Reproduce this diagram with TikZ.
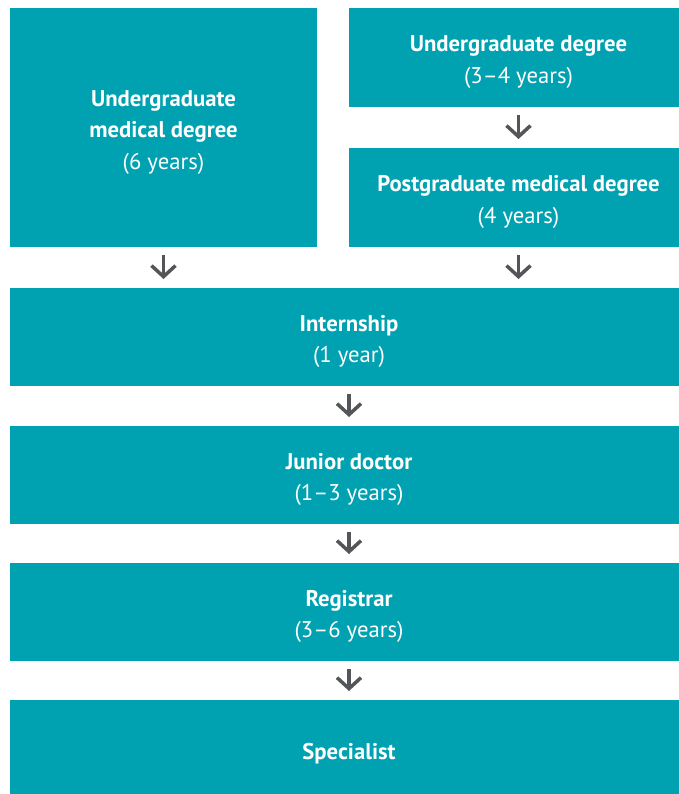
\documentclass[tikz,border=0pt]{standalone}
\usepackage{fontspec}
\setmainfont{PT Sans}
\usetikzlibrary{positioning,arrows.meta}
\definecolor{stageteal}{RGB}{0,161,176}
\definecolor{arrowgrey}{RGB}{84,85,89}
\newcommand{\topstrut}{\rule{0pt}{25pt}}
\tikzstyle{sbox}=[rectangle, fill=stageteal, text=white, inner sep=0pt,
                  outer sep=0pt, minimum height=98pt, align=center,
                  font=\fontsize{22.7}{31.5}\selectfont]
\tikzstyle{halfbox}=[sbox, minimum width=339pt, minimum height=99pt]
\tikzstyle{fullbox}=[sbox, minimum width=678pt]
\tikzstyle{parrow}=[-{Straight Barb[length=11pt,width=24pt]}, line width=3.5pt,
                    draw=arrowgrey, shorten <=8pt, shorten >=9pt]

\begin{document}
\begin{tikzpicture}[x=1pt,y=1pt]
\useasboundingbox (0,0) rectangle (679,-794);
\clip (0,0) rectangle (679,-794);

% two routes into medicine
\node (UGMD) [sbox, minimum width=307pt, minimum height=239pt,
 anchor=north west] at (10,-8) {\topstrut\textbf{Undergraduate}\\\textbf{medical degree}\\(6 years)};
\node (UGD) [halfbox, anchor=north west] at (349,-8) {\topstrut\textbf{Undergraduate degree}\\(3--4 years)};
\node (PGMD) [halfbox, below=41pt of UGD] {\topstrut\textbf{Postgraduate medical degree}\\(4 years)};
 \draw[parrow] (UGD) -- (PGMD);

% common training path
\node (INTRN) [fullbox, anchor=north west] at (10,-288) {\topstrut\textbf{Internship}\\(1 year)};
 \draw[parrow] (UGMD.south) -- (UGMD.south |- INTRN.north);
 \draw[parrow] (PGMD.south) -- (PGMD.south |- INTRN.north);
\node (JNRDR) [fullbox, below=40pt of INTRN] {\topstrut\textbf{Junior doctor}\\(1--3 years)};
 \draw[parrow] (INTRN) -- (JNRDR);
\node (RGSTR) [fullbox, below=39pt of JNRDR] {\topstrut\textbf{Registrar}\\(3--6 years)};
 \draw[parrow] (JNRDR) -- (RGSTR);
\node (SPCLST) [fullbox, below=39pt of RGSTR] {\topstrut\textbf{Specialist}};
 \draw[parrow] (RGSTR) -- (SPCLST);

\end{tikzpicture}
\end{document}
